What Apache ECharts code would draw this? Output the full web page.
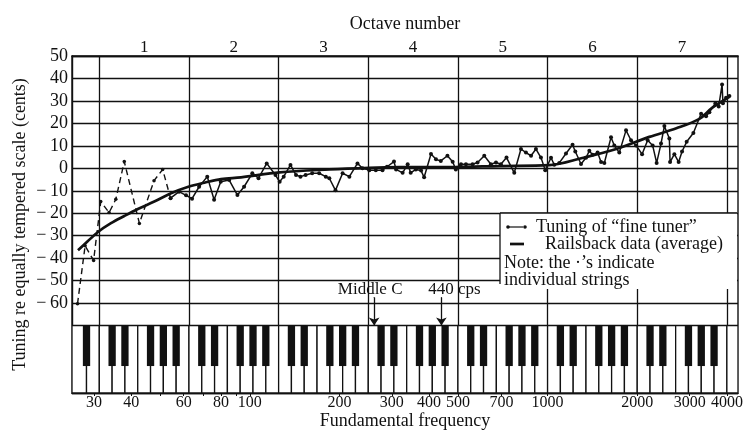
<!DOCTYPE html>
<html>
<head>
<meta charset="utf-8">
<script src="https://cdn.jsdelivr.net/npm/echarts@6/dist/echarts.min.js"></script>
<style>
html,body{margin:0;padding:0;background:#fff;}
#chart{width:747px;height:435px;}
</style>
</head>
<body>
<div id="chart"></div>
<script>
// ---------------- data ----------------
// "fine tuner" tuning, bass section drawn dashed: frequency (Hz) / deviation (cents)
const fineBassHz    = [26.4, 28.0, 29.9, 31.6, 33.7, 35.5, 37.9, 42.6, 47.7, 51.0, 54.2];
const fineBassCents = [-60.3, -34.5, -41, -14.8, -19.7, -13.8, 3, -24.5, -5.5, -0.5, -13.3];
// "fine tuner" tuning, remaining strings (solid with dots)
const fineHz = [54.2, 57.9, 61.1, 64.0, 67.6, 72.0, 75.9, 79.9, 85.3, 90.9, 95.7, 102, 107, 114, 122, 126, 130, 137, 143, 148,
  154, 162, 171, 180, 185, 194, 205, 216, 230, 239, 252, 265, 279, 289, 305, 310, 326, 339, 347, 361,
  376, 385, 406, 422, 438, 461, 480, 492, 512, 532, 560, 582, 613, 645, 671, 697, 728, 773, 814, 846,
  880, 914, 950, 982, 1027, 1053, 1095, 1153, 1213, 1239, 1295, 1346, 1381, 1416, 1472, 1512, 1551, 1633, 1675, 1741,
  1834, 1906, 1982, 2076, 2168, 2253, 2324, 2404, 2467, 2564, 2578, 2665, 2755, 2828, 2931, 3087, 3277, 3406, 3494, 3660,
  3754, 3854, 3880, 3975, 4078];
const fineCents = [-13.3, -10.4, -12, -13.5, -8.2, -3.7, -14, -6, -5.2, -11.9, -8.2, -2.2, -4.4, 2.2, -3, -6, -3.7, 1.5, -3, -3.7,
  -3, -2.2, -2.2, -3.7, -4.4, -9.8, -2.2, -3.7, 2.2, 0, -0.8, -0.8, -0.8, 0.7, 3, -0.5, -2, 1.8, -2, -0.5,
  -1, -4, 6.4, 4, 3.3, 5.6, 2.9, -0.5, 1.8, 1.8, 1.8, 2.6, 5.6, 1.8, 2.6, 1.8, 4.8, -2, 8.6, 7,
  5.6, 8.6, 4.8, -0.8, 4.7, 1.6, 2.4, 6.6, 10.5, 7.5, 1.9, 4.7, 7.8, 6, 7, 2.8, 2.4, 13.8, 10.2, 7,
  16.9, 12.5, 10.2, 6.3, 12.5, 10.2, 2.4, 11, 18.8, 13.3, 2.8, 6.3, 2.8, 7.5, 11.8, 15.7, 24.3, 23.2, 25, 29,
  27.5, 37.3, 29, 31.4, 32.2];
// Railsback average curve
const railHz    = [26.5, 28.5, 31.0, 34.2, 37.9, 42.1, 47.8, 54.4, 62.2, 70.4, 80.1, 93.5, 126, 185, 252, 318, 490, 689, 1013, 1308, 1701, 2196, 2707, 3234, 3576, 4078];
const railCents = [-36.5, -32.6, -28.2, -24.4, -21.2, -18.1, -14.8, -11.1, -8.2, -6.4, -4.8, -4.0, -1.8, -0.5, 0.2, 0.5, 0.6, 1.0, 1.4, 4.6, 8.6, 14, 17.8, 22, 27, 31.8];

// axis ticks / labels
const freqTickLabels = [30, 40, 60, 80, 100, 200, 300, 400, 500, 700, 1000, 2000, 3000, 4000];
const freqMinorTicks = [30, 40, 50, 60, 70, 80, 90, 100, 200, 300, 400, 500, 700, 1000, 2000, 3000, 4000];
const octaveEdges = [31.25, 62.5, 125, 250, 500, 1000, 2000, 4000];
const octaveLabels = ['1', '2', '3', '4', '5', '6', '7'];
const centsTicksShown = [50, 40, 30, 20, 10, 0, -10, -20, -30, -40, -50, -60];
const annotations = [{name: 'Middle C', freq: 261.63}, {name: '440 cps', freq: 440}];

// ---------------- layout constants ----------------
const X_MIN = 25.3, X_MAX = 4359;
const Y_MIN = -100, Y_MAX = 50;
const KEY_TOP = -70, KEY_BOTTOM = -100, BLACK_BOTTOM = -88;
const ARROW_START = -57.5;
const ANNOT_SHIFT = [-4, 13];
const FONT = '"Liberation Serif","DejaVu Serif",serif';
const INK = '#111';

// ---------------- piano keyboard geometry (7 white keys per octave, B|C at octave edges) ----------------
const keys = [];
const W = Math.pow(2, 1 / 7);
const blackHalf = Math.pow(2, 0.57 / 7 / 2);
const clampX = v => Math.min(X_MAX, Math.max(X_MIN, v));
const e0 = octaveEdges[0];
keys.push([clampX(e0 / W / W / W), e0 / W, 0]); // A0
keys.push([e0 / W, e0, 0]);                     // B0
for (let j = 0; j < 7; j++) {
  const e = octaveEdges[j];
  for (let i = 0; i < 7; i++) keys.push([e * Math.pow(W, i), e * Math.pow(W, i + 1), 0]);
}
keys.push([octaveEdges[7], clampX(octaveEdges[7] * W), 0]); // C8
const blackCenters = [e0 / W];
for (let j = 0; j < 7; j++) {
  const e = octaveEdges[j];
  [1, 2, 4, 5, 6].forEach(i => blackCenters.push(e * Math.pow(W, i)));
}
blackCenters.forEach(c => keys.push([c / blackHalf, c * blackHalf, 1]));

const pairs = (xs, ys) => xs.map((x, i) => [x, ys[i]]);
const octaveMids = octaveEdges.slice(0, 7).map((e, i) => Math.sqrt(e * octaveEdges[i + 1]));

const chart = echarts.init(document.getElementById('chart'), null, {renderer: 'canvas'});
const axisText = {color: INK, fontFamily: FONT};

chart.setOption({
  animation: false,
  backgroundColor: '#fff',
  textStyle: {fontFamily: FONT, color: INK},
  grid: {left: 72, right: 9, top: 56, bottom: 42, show: true, borderColor: INK, borderWidth: 1.4,
         containLabel: false, outerBoundsMode: 'none'},
  xAxis: [{
    type: 'log', logBase: 2, min: X_MIN, max: X_MAX, position: 'bottom',
    name: 'Fundamental frequency', nameLocation: 'middle', nameGap: 19, nameMoveOverlap: false,
    nameTextStyle: Object.assign({fontSize: 18}, axisText),
    axisLine: {show: true, onZero: false, lineStyle: {color: INK, width: 1.4}},
    axisTick: {show: true, length: 3, customValues: freqMinorTicks, lineStyle: {color: INK, width: 1}},
    axisLabel: Object.assign({fontSize: 16, margin: 2, customValues: freqTickLabels,
      formatter: v => String(Math.round(v))}, axisText),
    splitLine: {show: false}, minorTick: {show: false}
  }, {
    type: 'log', logBase: 2, min: X_MIN, max: X_MAX, position: 'top',
    name: 'Octave number', nameLocation: 'middle', nameGap: 23, nameMoveOverlap: false,
    nameTextStyle: Object.assign({fontSize: 18}, axisText),
    axisLine: {show: true, onZero: false, lineStyle: {color: INK, width: 1.4}},
    axisTick: {show: false},
    axisLabel: Object.assign({fontSize: 17, margin: 0, customValues: octaveMids,
      formatter: v => {
        let best = 0;
        octaveMids.forEach((m, i) => { if (Math.abs(Math.log(m / v)) < Math.abs(Math.log(octaveMids[best] / v))) best = i; });
        return octaveLabels[best];
      }}, axisText),
    splitLine: {show: false}
  }],
  yAxis: {
    type: 'value', min: Y_MIN, max: Y_MAX, interval: 10,
    name: 'Tuning re equally tempered scale (cents)', nameLocation: 'middle', nameGap: 43, nameMoveOverlap: false,
    nameTextStyle: Object.assign({fontSize: 18}, axisText),
    axisLine: {show: true, lineStyle: {color: INK, width: 1.4}},
    axisTick: {show: false},
    axisLabel: Object.assign({fontSize: 18, margin: 4,
      formatter: v => centsTicksShown.indexOf(v) < 0 ? '' : (v < 0 ? '\u2212\u2009' + (-v) : String(v))}, axisText),
    splitLine: {show: true, lineStyle: {color: INK, width: 1.3}}
  },
  series: [
    {
      name: 'Railsback data (average)', type: 'line', z: 3,
      data: pairs(railHz, railCents), smooth: 0.35, showSymbol: false,
      lineStyle: {color: INK, width: 2.7},
      markLine: {
        silent: true, symbol: ['none', 'none'], label: {show: false},
        lineStyle: {color: INK, width: 1.3, type: 'solid'},
        data: octaveEdges.map(v => ({xAxis: v}))
      }
    },
    {
      name: 'Tuning of fine tuner (bass)', type: 'line', z: 4,
      data: pairs(fineBassHz, fineBassCents), symbol: 'circle', symbolSize: 3.5,
      itemStyle: {color: INK}, lineStyle: {color: INK, width: 1.4, type: [6, 4]}
    },
    {
      name: 'Tuning of fine tuner', type: 'line', z: 4,
      data: pairs(fineHz, fineCents), symbol: 'circle', symbolSize: 4,
      itemStyle: {color: INK}, lineStyle: {color: INK, width: 1.5}
    },
    {
      name: 'keyboard', type: 'custom', z: 5, clip: true, silent: true,
      data: keys,
      encode: {x: [0, 1]},
      renderItem: (params, api) => {
        const black = api.value(2) === 1;
        const p0 = api.coord([api.value(0), KEY_TOP]);
        const p1 = api.coord([api.value(1), black ? BLACK_BOTTOM : KEY_BOTTOM]);
        return {
          type: 'rect',
          shape: {x: p0[0], y: p0[1], width: p1[0] - p0[0], height: p1[1] - p0[1]},
          style: black ? {fill: INK} : {fill: '#fff', stroke: INK, lineWidth: 1.3}
        };
      }
    },
    {
      name: 'annotations', type: 'scatter', z: 7, silent: true,
      data: annotations.map((a, i) => ({
        name: a.name, value: [a.freq, ARROW_START],
        label: {offset: [ANNOT_SHIFT[i], 0]}
      })),
      symbol: 'circle', symbolSize: 1, itemStyle: {color: INK, opacity: 1},
      label: {show: true, formatter: '{b}', fontSize: 17, fontFamily: FONT, color: INK,
              position: 'top', distance: -1, textBorderWidth: 0, opacity: 1},
      markLine: {
        silent: true, symbol: ['none', 'arrow'], symbolSize: 8,
        label: {show: false}, lineStyle: {color: INK, width: 1.3, type: 'solid', opacity: 1},
        data: annotations.map(a => [{coord: [a.freq, ARROW_START]}, {coord: [a.freq, KEY_TOP]}])
      }
    }
  ],
  graphic: [{
    type: 'group', z: 100, zlevel: 0,
    children: [
      {type: 'rect', z: 100, shape: {x: 500, y: 213, width: 237, height: 76}, style: {fill: '#fff'}},
      {type: 'line', z: 101, shape: {x1: 500, y1: 213, x2: 737, y2: 213}, style: {stroke: INK, lineWidth: 1.3}},
      {type: 'line', z: 101, shape: {x1: 500, y1: 213, x2: 500, y2: 284}, style: {stroke: INK, lineWidth: 1.3}},
      {type: 'line', z: 101, shape: {x1: 509, y1: 227, x2: 523, y2: 227}, style: {stroke: INK, lineWidth: 1.2}},
      {type: 'circle', z: 101, shape: {cx: 508, cy: 227, r: 1.8}, style: {fill: INK}},
      {type: 'circle', z: 101, shape: {cx: 525, cy: 227, r: 1.8}, style: {fill: INK}},
      {type: 'text', z: 101, style: {x: 536, y: 227, text: 'Tuning of \u201cfine tuner\u201d', font: '18px ' + FONT, fill: INK, verticalAlign: 'middle'}},
      {type: 'line', z: 101, shape: {x1: 510, y1: 244, x2: 524, y2: 244}, style: {stroke: INK, lineWidth: 2.7}},
      {type: 'text', z: 101, style: {x: 545, y: 244, text: 'Railsback data (average)', font: '18px ' + FONT, fill: INK, verticalAlign: 'middle'}},
      {type: 'text', z: 101, style: {x: 504, y: 263, text: 'Note: the \u00b7\u2019s indicate', font: '18px ' + FONT, fill: INK, verticalAlign: 'middle'}},
      {type: 'text', z: 101, style: {x: 504, y: 280, text: 'individual strings', font: '18px ' + FONT, fill: INK, verticalAlign: 'middle'}}
    ]
  }]
});
</script>
</body>
</html>
